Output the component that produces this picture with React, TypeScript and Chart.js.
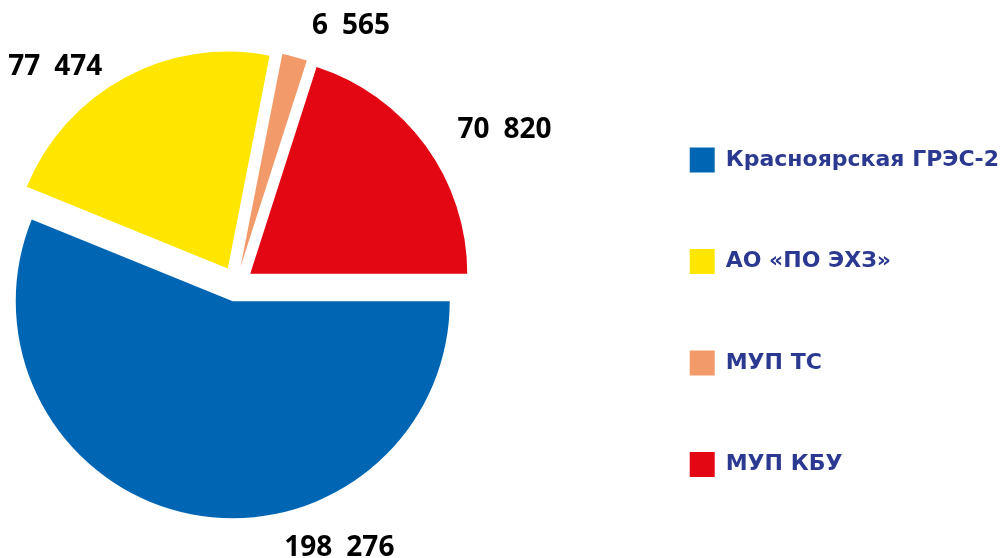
import React, { useEffect, useRef } from "react";
import { Chart, registerables } from "chart.js";

Chart.register(...registerables);

const categories = ["Красноярская ГРЭС-2", "АО «ПО ЭХЗ»", "МУП ТС", "МУП КБУ"];
const values = [198276, 77474, 6565, 70820];
const colors = ["#0066B3", "#FFE600", "#F29A69", "#E30613"];

// label placement relative to each slice: angle shift (deg) from mid-angle, extra distance beyond the rim (px)
const labelAngleShift = [-34.6, -11.9, 10, 6.3];
const labelRadialShift = [50, 50, 50, 76];

const fmt = (v: number) => String(v).replace(/\B(?=(\d{3})+(?!\d))/g, "\u2002");

const explodePlugin = {
  id: "explode",
  afterDatasetUpdate(chart: any, args: any, opts: any) {
    const meta = chart.getDatasetMeta(args.index);
    meta.data.forEach((arc: any) => {
      const mid = (arc.startAngle + arc.endAngle) / 2;
      arc.x += Math.cos(mid) * opts.distance;
      arc.y += Math.sin(mid) * opts.distance;
    });
  },
};

const labelPlugin = {
  id: "sliceLabels",
  afterDatasetsDraw(chart: any, _args: any, opts: any) {
    const ctx = chart.ctx;
    const meta = chart.getDatasetMeta(0);
    ctx.save();
    ctx.font = opts.font;
    ctx.fillStyle = opts.color;
    ctx.textAlign = "center";
    ctx.textBaseline = "middle";
    meta.data.forEach((arc: any, i: number) => {
      const { x, y, startAngle, endAngle, outerRadius } = arc.getProps(
        ["x", "y", "startAngle", "endAngle", "outerRadius"],
        true
      );
      const a = (startAngle + endAngle) / 2 + (opts.angleShift[i] * Math.PI) / 180;
      const r = outerRadius + opts.radialShift[i];
      ctx.fillText(fmt(values[i]), x + Math.cos(a) * r, y + Math.sin(a) * r + opts.baselineFix);
    });
    ctx.restore();
  },
};

const SHIFT = 141;
const CANVAS_W = 1150;
const CANVAS_H = 558;

export default function App() {
  const ref = useRef<HTMLCanvasElement | null>(null);

  useEffect(() => {
    if (!ref.current) return;
    const chart = new Chart(ref.current, {
      type: "pie",
      data: {
        labels: categories,
        datasets: [
          {
            data: values,
            backgroundColor: colors,
            borderWidth: 0,
            hoverOffset: 0,
          },
        ],
      },
      options: {
        responsive: false,
        animation: false,
        events: [],
        rotation: 90,
        radius: 217,
        layout: { padding: { left: 0, right: 0, top: 14.5, bottom: 4.5 } },
        plugins: {
          tooltip: { enabled: false },
          legend: {
            position: "right",
            align: "end",
            labels: {
              boxWidth: 25,
              boxHeight: 25,
              padding: 76.5,
              color: "#2B3990",
              font: { family: "'DejaVu Sans'", size: 22, weight: "bold" },
            },
          },
          explode: { distance: 17.5 },
          sliceLabels: {
            font: "bold 28px 'Open Sans'",
            color: "#000000",
            angleShift: labelAngleShift,
            radialShift: labelRadialShift,
            baselineFix: 2,
          },
        } as any,
      },
      plugins: [explodePlugin, labelPlugin],
    });
    return () => chart.destroy();
  }, []);

  return (
    <div
      style={{
        position: "absolute",
        left: 0,
        top: 0,
        width: 1001,
        height: 558,
        overflow: "hidden",
        background: "#fff",
      }}
    >
      <canvas
        ref={ref}
        width={CANVAS_W}
        height={CANVAS_H}
        style={{ display: "block", position: "absolute", left: -SHIFT, top: 0 }}
      />
    </div>
  );
}
